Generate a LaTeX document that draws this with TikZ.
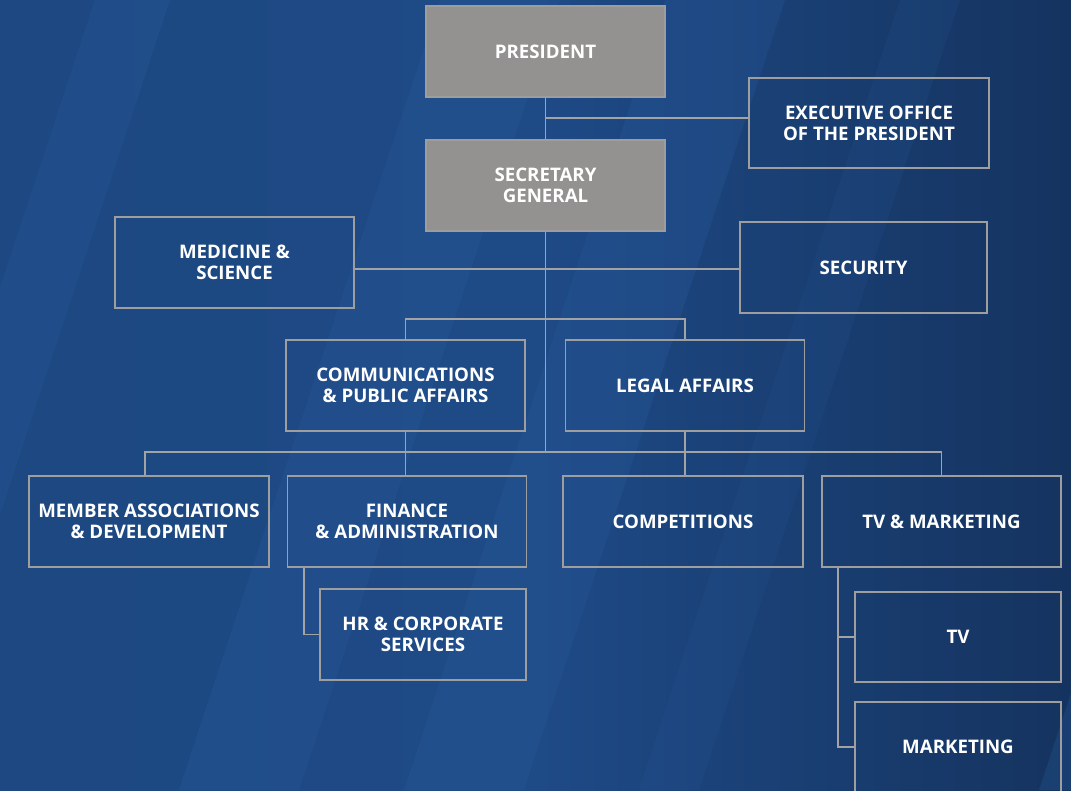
\documentclass[tikz,border=0pt]{standalone}
\usepackage{fontspec}
\setmainfont{Open Sans}
\usetikzlibrary{calc}
\definecolor{bgL}{HTML}{1D4881}
\definecolor{bgM}{HTML}{1E4A86}
\definecolor{bgR}{HTML}{15335F}
\definecolor{streak}{HTML}{2A5C9E}
\definecolor{boxline}{HTML}{9E9E9E}
\definecolor{conn}{HTML}{A3A3A3}
\definecolor{topfill}{HTML}{939290}
\tikzset{
  unit/.style={draw=boxline, line width=1.6pt, text=white, align=center,
    font=\fontsize{18.7}{21}\selectfont\bfseries, inner sep=0pt,
    minimum width=239pt, minimum height=91pt},
  topunit/.style={unit, fill=topfill, draw=topfill!90!white},
  link/.style={draw=conn, line width=1.9pt},
  band/.style={fill=streak, fill opacity=0.28, draw=none}
}
\begin{document}
\begin{tikzpicture}[x=1pt,y=-1pt]
\useasboundingbox (0,0) rectangle (1071,790);
\clip (0,0) rectangle (1071,790);
% background
\shade[left color=bgL, right color=bgR, middle color=bgM] (0,0) rectangle (1071,790);
\fill[band] (95,0) -- (170,0) -- (-91,790) -- (-166,790) -- cycle;
\fill[band] (440,0) -- (560,0) -- (299,790) -- (179,790) -- cycle;
\fill[band] (665,0) -- (785,0) -- (524,790) -- (404,790) -- cycle;
\fill[band, fill opacity=0.15] (900,0) -- (960,0) -- (699,790) -- (639,790) -- cycle;
\fill[band] (1300,0) -- (1400,0) -- (1139,790) -- (1039,790) -- cycle;

% nodes
\node[topunit] (pres) at (545.5,51.5) {PRESIDENT};
\node[topunit] (sg) at (545.5,185.5) {SECRETARY\\GENERAL};
\node[unit, minimum width=240pt, minimum height=90pt] (exec) at (869,123) {EXECUTIVE OFFICE\\OF THE PRESIDENT};
\node[unit] (med) at (234.5,262.5) {MEDICINE \&\\SCIENCE};
\node[unit, minimum width=247pt] (sec) at (863.5,267.5) {SECURITY};
\node[unit] (comm) at (405.5,385.5) {COMMUNICATIONS\\\& PUBLIC AFFAIRS};
\node[unit] (legal) at (685,385.5) {LEGAL AFFAIRS};
\node[unit, minimum width=240pt] (mem) at (149,521.5) {MEMBER ASSOCIATIONS\\\& DEVELOPMENT};
\node[unit] (fin) at (407,521.5) {FINANCE\\\& ADMINISTRATION};
\node[unit, minimum width=240pt] (comp) at (683,521.5) {COMPETITIONS};
\node[unit] (tvm) at (941.5,521.5) {TV \& MARKETING};
\node[unit, minimum width=206pt] (hr) at (423,634.5) {HR \& CORPORATE\\SERVICES};
\node[unit, minimum width=206pt, minimum height=90pt] (tv) at (958,637) {TV};
\node[unit, minimum width=206pt, minimum height=90pt] (mkt) at (958,747) {MARKETING};

% connectors
\coordinate (busA) at (545.5,118);
\coordinate (busB) at (545.5,269);
\coordinate (busC) at (545.5,319);
\coordinate (busD) at (545.5,452);
\draw[link] (pres.south) -- (sg.north);
\draw[link] (busA) -- (exec.west |- busA);
\draw[link] (sg.south) -- (busD);
\draw[link] (med.east |- busB) -- (sec.west |- busB);
\draw[link] (comm.north) |- (busC) -| (legal.north);
\draw[link] (comm.south) -- (comm.south |- fin.north);
\draw[link] (legal.south) -- (legal.south |- comp.north);
\coordinate (memTop) at ($(mem.north)+(-4,0)$);
\draw[link] (memTop) |- (busD) -| (tvm.north);
\coordinate (finL) at ($(fin.south west)+(17,0)$);
\draw[link] (finL) |- (hr.west);
\coordinate (tvmL) at ($(tvm.south west)+(17,0)$);
\draw[link] (tvmL) |- (tv.west);
\draw[link] (tvmL) |- (mkt.west);
\end{tikzpicture}
\end{document}
